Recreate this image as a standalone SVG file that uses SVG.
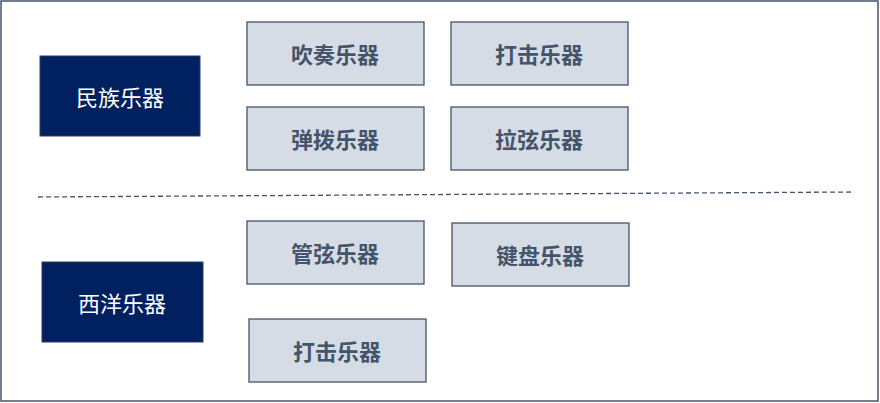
<svg xmlns="http://www.w3.org/2000/svg" width="880" height="403" viewBox="0 0 880 403">
<style>
.d{fill:#002060;stroke:#2F3F5F;stroke-width:1}
.l{fill:#D6DCE5;stroke:#44546A;stroke-width:1.3}
.dt{fill:#fff;font-family:"Noto Sans CJK SC",sans-serif;font-size:22px;text-anchor:middle;dominant-baseline:central}
.lt{fill:#44546A;font-family:"Noto Sans CJK SC",sans-serif;font-size:22px;font-weight:bold;text-anchor:middle;dominant-baseline:central}
</style>
<rect x="1" y="1" width="877" height="400" fill="#fff" stroke="#44546A" stroke-width="1.5"/>
<g id="connectors"><line x1="38" y1="197" x2="852" y2="192" stroke="#44546A" stroke-width="1.3" stroke-dasharray="5,3"/></g>
<g id="n1"><rect class="d" x="40" y="56" width="160" height="80"/><text class="dt" x="120" y="96">民族乐器</text></g>
<g id="n2"><rect class="d" x="42" y="262" width="161" height="80"/><text class="dt" x="122" y="302">西洋乐器</text></g>
<g id="n3"><rect class="l" x="247" y="22" width="177" height="63"/><text class="lt" x="335" y="53">吹奏乐器</text></g>
<g id="n4"><rect class="l" x="451" y="22" width="177" height="63"/><text class="lt" x="539" y="53">打击乐器</text></g>
<g id="n5"><rect class="l" x="247" y="107" width="177" height="63"/><text class="lt" x="335" y="138">弹拨乐器</text></g>
<g id="n6"><rect class="l" x="451" y="107" width="177" height="63"/><text class="lt" x="539" y="138">拉弦乐器</text></g>
<g id="n7"><rect class="l" x="247" y="221" width="177" height="63"/><text class="lt" x="335" y="252">管弦乐器</text></g>
<g id="n8"><rect class="l" x="452" y="223" width="177" height="63"/><text class="lt" x="540" y="254">键盘乐器</text></g>
<g id="n9"><rect class="l" x="249" y="319" width="177" height="63"/><text class="lt" x="337" y="350">打击乐器</text></g>
</svg>
